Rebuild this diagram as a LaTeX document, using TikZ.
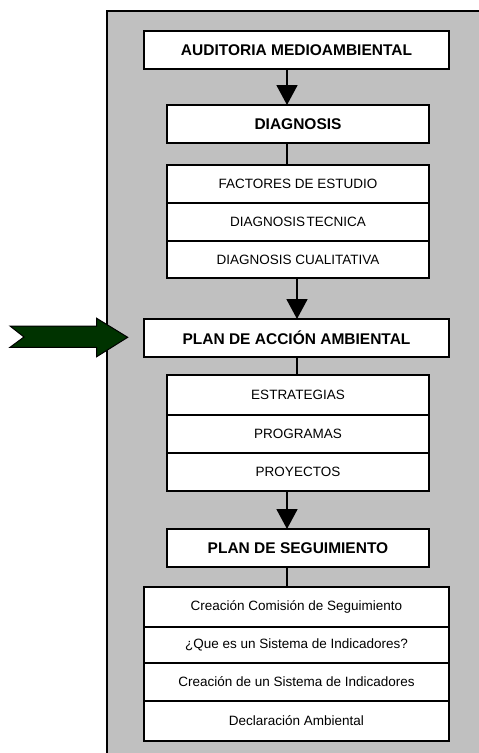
\documentclass[tikz,border=0pt]{standalone}
\usepackage{fontspec}
\setmainfont{Liberation Sans}
\usetikzlibrary{arrows.meta}
\definecolor{panelgray}{RGB}{192,192,192}
\definecolor{darkgreen}{RGB}{0,51,0}
\tikzset{
  box/.style={draw=black, fill=white, line width=1.8pt, inner sep=0pt, outer sep=0pt, align=center},
  titlebox/.style={box, font=\fontsize{15.5}{18}\selectfont\bfseries},
  itembox/.style={box, font=\fontsize{13.5}{16}\selectfont},
  wide/.style={minimum width=305pt},
  narrow/.style={minimum width=262pt},
  link/.style={draw=black, line width=1.8pt},
  flow/.style={link, -{Triangle[width=21pt,length=20pt]}},
}
\begin{document}
\begin{tikzpicture}[x=1pt,y=-1pt]
\useasboundingbox (0,0) rectangle (479,753);
% panel
\fill[panelgray] (107,11) rectangle (482,756);
\draw[line width=1.5pt] (107,756) -- (107,11) -- (482,11);

% main boxes
\node[titlebox, wide, minimum height=38pt] (aud) at (296.5,50) {AUDITORIA MEDIOAMBIENTAL};
\node[titlebox, narrow, minimum height=38pt] (diag) at (298,124) {DIAGNOSIS};
\node[itembox, narrow, minimum height=38pt] (f1) at (298,184) {FACTORES DE ESTUDIO};
\node[itembox, narrow, minimum height=38pt] (f2) at (298,222) {DIAGNOSIS\hspace{0.12em}TECNICA};
\node[itembox, narrow, minimum height=37pt] (f3) at (298,259.5) {DIAGNOSIS CUALITATIVA};
\node[titlebox, wide, minimum height=38pt] (plan) at (296.5,338) {PLAN DE ACCIÓN AMBIENTAL};
\node[itembox, narrow, minimum height=40pt] (e1) at (298,395) {ESTRATEGIAS};
\node[itembox, narrow, minimum height=38pt] (e2) at (298,434) {PROGRAMAS};
\node[itembox, narrow, minimum height=38pt] (e3) at (298,472) {PROYECTOS};
\node[titlebox, narrow, minimum height=38pt] (seg) at (298,548) {PLAN DE SEGUIMIENTO};
\node[itembox, wide, minimum height=40pt] (s1) at (296.5,607) {Creación Comisión de Seguimiento};
\node[itembox, wide, minimum height=36pt] (s2) at (296.5,645) {¿Que es un Sistema de Indicadores?};
\node[itembox, wide, minimum height=38pt] (s3) at (296.5,682) {Creación de un Sistema de Indicadores};
\node[itembox, wide, minimum height=40pt] (s4) at (296.5,721) {Declaración Ambiental};

% connectors
\coordinate (c1) at ([xshift=-9.5pt]aud.south);
\draw[flow] (c1) -- (c1 |- diag.north);
\coordinate (c2) at ([xshift=-11pt]diag.south);
\draw[link] (c2) -- (c2 |- f1.north);
\coordinate (c3) at ([xshift=-1pt]f3.south);
\draw[flow] (c3) -- (c3 |- plan.north);
\coordinate (c4) at ([xshift=0.5pt]plan.south);
\draw[link] (c4) -- (c4 |- e1.north);
\coordinate (c5) at ([xshift=-11pt]e3.south);
\draw[flow] (c5) -- (c5 |- seg.north);
\coordinate (c6) at ([xshift=-11pt]seg.south);
\draw[link] (c6) -- (c6 |- s1.north);

% green arrow
\draw[fill=darkgreen, draw=black, line width=1pt, line join=miter]
  (10,326) -- (96.7,326) -- (96.7,318.3) -- (127.7,337.3) -- (96.7,356.7)
  -- (96.7,347.3) -- (10,347.3) -- (24,337) -- cycle;
\end{tikzpicture}
\end{document}
